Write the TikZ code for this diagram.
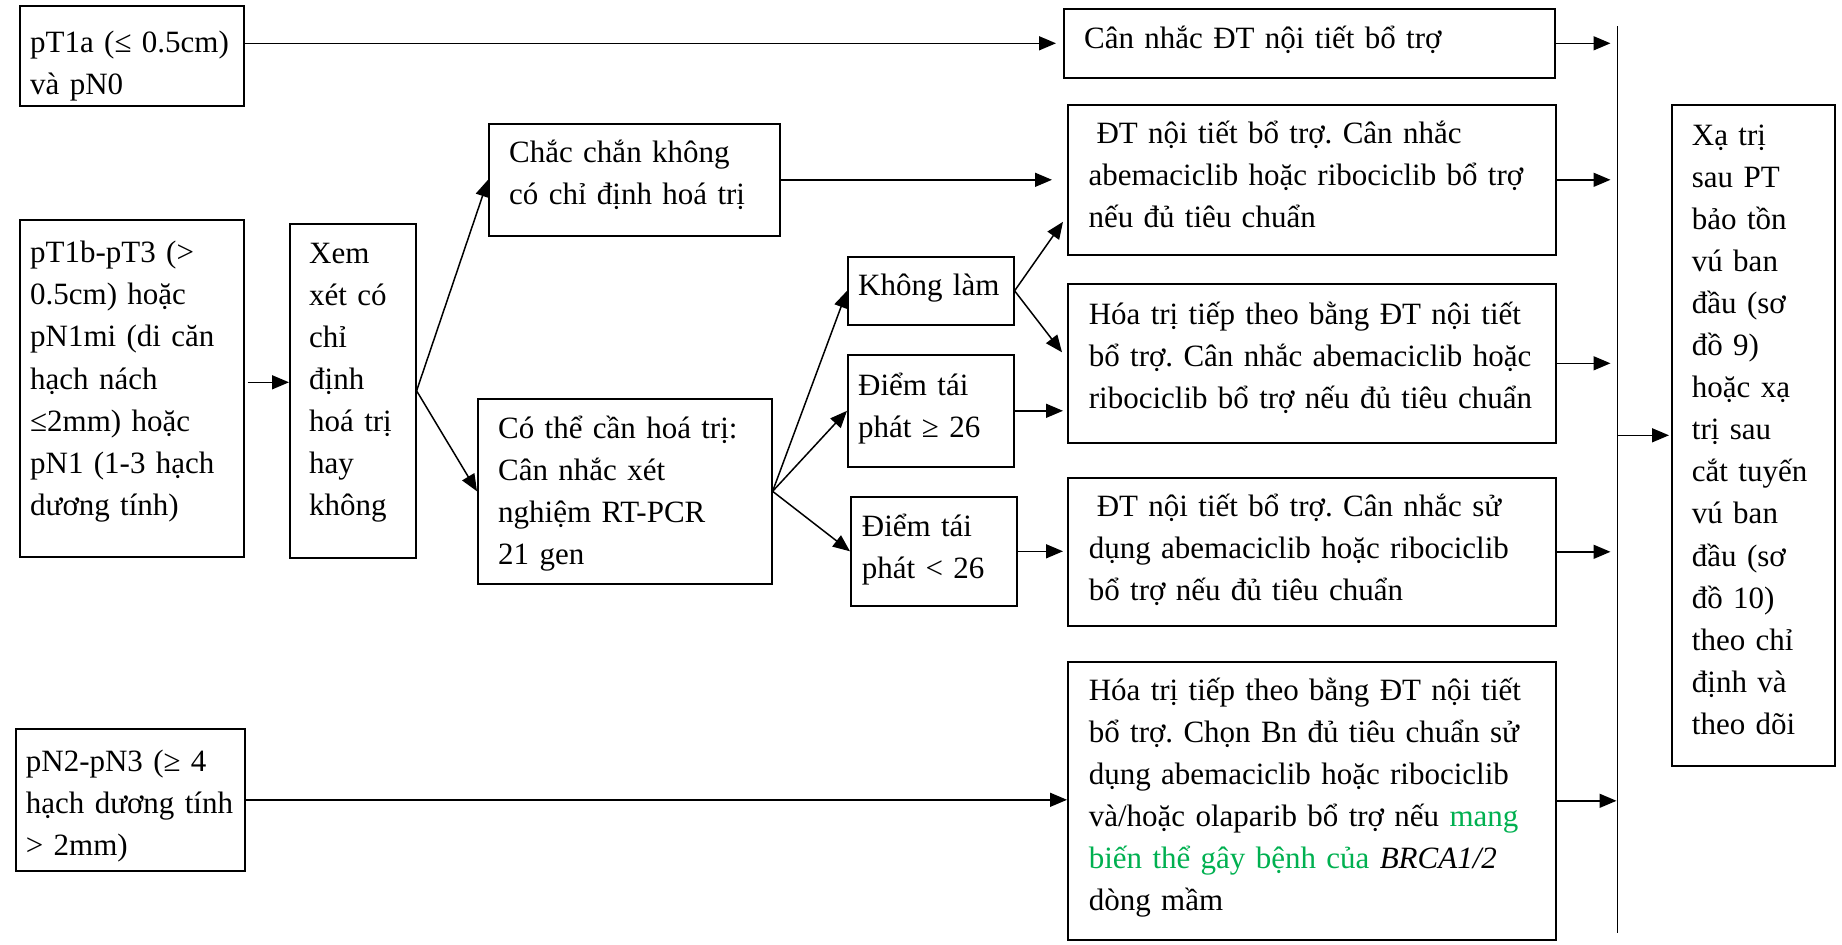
\documentclass[tikz,border=0pt]{standalone}
\usepackage{fontspec}
\setmainfont{Liberation Serif}
\usetikzlibrary{arrows.meta}
\definecolor{mutgreen}{HTML}{00B050}
\frenchspacing
\begin{document}
\begin{tikzpicture}[x=1pt,y=-1pt,
  box/.style={draw, line width=1.6pt, inner sep=0pt, anchor=north west},
  txt/.style={inner sep=0pt, anchor=base west, text width=480pt, align=left,
              font=\fontsize{31}{42.1}\selectfont\frenchspacing},
  link/.style={line width=1.5pt, -{Triangle[length=17pt,width=14pt]}},
  bar/.style={line width=1.6pt},
]
\useasboundingbox (0,0) rectangle (1842,945);

% ---- boxes ----
\node[box, minimum width=224pt, minimum height=100pt] (a) at (19,5) {};
\node[box, minimum width=224pt, minimum height=337pt] (b) at (19,219) {};
\node[box, minimum width=126pt, minimum height=334pt] (c) at (289,223) {};
\node[box, minimum width=291pt, minimum height=112pt] (d) at (488,123) {};
\node[box, minimum width=294pt, minimum height=185pt] (e) at (477,398) {};
\node[box, minimum width=166pt, minimum height=68pt]  (f) at (847,256) {};
\node[box, minimum width=166pt, minimum height=112pt] (g) at (847,354) {};
\node[box, minimum width=166pt, minimum height=109pt] (h) at (850,496) {};
\node[box, minimum width=491pt, minimum height=69pt]  (i) at (1063,8) {};
\node[box, minimum width=488pt, minimum height=150pt] (j) at (1067,104) {};
\node[box, minimum width=488pt, minimum height=159pt] (k) at (1067,283) {};
\node[box, minimum width=488pt, minimum height=148pt] (l) at (1067,477) {};
\node[box, minimum width=488pt, minimum height=278pt] (m) at (1067,661) {};
\node[box, minimum width=163pt, minimum height=661pt] (n) at (1671,104) {};
\node[box, minimum width=229pt, minimum height=142pt] (o) at (15,728) {};

% ---- texts ----
\node[txt] (ta) at (30,52.5) {pT1a (≤ 0.5cm)\\và pN0};
\node[txt] (tb) at (30,262.7) {pT1b-pT3 (>\\0.5cm) hoặc\\pN1mi (di căn\\hạch nách\\≤2mm) hoặc\\pN1 (1-3 hạch\\dương tính)};
\node[txt] (tc) at (309,263.3) {Xem\\xét có\\chỉ\\định\\hoá trị\\hay\\không};
\node[txt] (td) at (509,162) {Chắc chắn không\\có chỉ định hoá trị};
\node[txt] (te) at (498,438.3) {Có thể cần hoá trị:\\Cân nhắc xét\\nghiệm RT-PCR\\21 gen};
\node[txt] (tf) at (858,295) {Không làm};
\node[txt] (tg) at (858,395.5) {Điểm tái\\phát ≥ 26};
\node[txt] (th) at (861.7,536.7) {Điểm tái\\phát < 26};
\node[txt] (ti) at (1084,48.3) {Cân nhắc ĐT nội tiết bổ trợ};
\node[txt] (tj) at (1088.3,143.3) {\hspace*{8pt}ĐT nội tiết bổ trợ. Cân nhắc\\abemaciclib hoặc ribociclib bổ trợ\\nếu đủ tiêu chuẩn};
\node[txt] (tk) at (1088.6,324) {Hóa trị tiếp theo bằng ĐT nội tiết\\bổ trợ. Cân nhắc abemaciclib hoặc\\ribociclib bổ trợ nếu đủ tiêu chuẩn};
\node[txt] (tl) at (1088.6,516.5) {\hspace*{8pt}ĐT nội tiết bổ trợ. Cân nhắc sử\\dụng abemaciclib hoặc ribociclib\\bổ trợ nếu đủ tiêu chuẩn};
\node[txt] (tm) at (1088.6,700) {Hóa trị tiếp theo bằng ĐT nội tiết\\bổ trợ. Chọn Bn đủ tiêu chuẩn sử\\dụng abemaciclib hoặc ribociclib\\và/hoặc olaparib bổ trợ nếu \textcolor{mutgreen}{mang}\\\textcolor{mutgreen}{biến thể gây bệnh của} \textit{BRCA1/2}\\dòng mầm};
\node[txt] (tn) at (1691.7,145) {Xạ trị\\sau PT\\bảo tồn\\vú ban\\đầu (sơ\\đồ 9)\\hoặc xạ\\trị sau\\cắt tuyến\\vú ban\\đầu (sơ\\đồ 10)\\theo chỉ\\định và\\theo dõi};
\node[txt] (to) at (25.7,771.7) {pN2-pN3 (≥ 4\\hạch dương tính\\> 2mm)};

% ---- collecting bar ----
\coordinate (bt) at (1617.5,26);
\coordinate (bb) at (1617.5,933);
\draw[bar] (bt) -- (bb);

% ---- connectors ----
\draw[link, shorten >=7pt] (a.east |- i.west) -- (i.west);
\draw[link, shorten <=3pt] ([yshift=6pt]b.east) -- ([yshift=6pt]b.east -| c.west);
\draw[link] (c.east) -- (d.west);
\draw[link] (c.east) -- (e.west);
\draw[link, shorten >=15pt] (d.east) -- (d.east -| j.west);
\draw[link] (e.east) -- (f.west);
\draw[link] (e.east) -- (g.west);
\draw[link] (e.east) -- (h.west);
\draw[link] (f.east) -- ([xshift=-4pt,yshift=-42pt]j.west);
\draw[link] (f.east) -- ([xshift=-5pt,yshift=11pt]k.west);
\draw[link, shorten >=4pt] (g.east) -- (g.east -| k.west);
\draw[link, shorten >=4pt] (h.east) -- (h.east -| l.west);
\draw[link] (o.east) -- (o.east -| m.west);

\draw[link, shorten >=7pt] (i.east) -- (i.east -| bt);
\draw[link, shorten >=7pt] (j.east) -- (j.east -| bt);
\draw[link, shorten >=7pt] (k.east) -- (k.east -| bt);
\draw[link, shorten >=7pt] (l.east) -- (l.east -| bt);
\draw[link, shorten >=1pt] (m.east) -- (m.east -| bt);
\draw[link, shorten >=2pt] (n.west -| bt) -- (n.west);
\end{tikzpicture}
\end{document}
